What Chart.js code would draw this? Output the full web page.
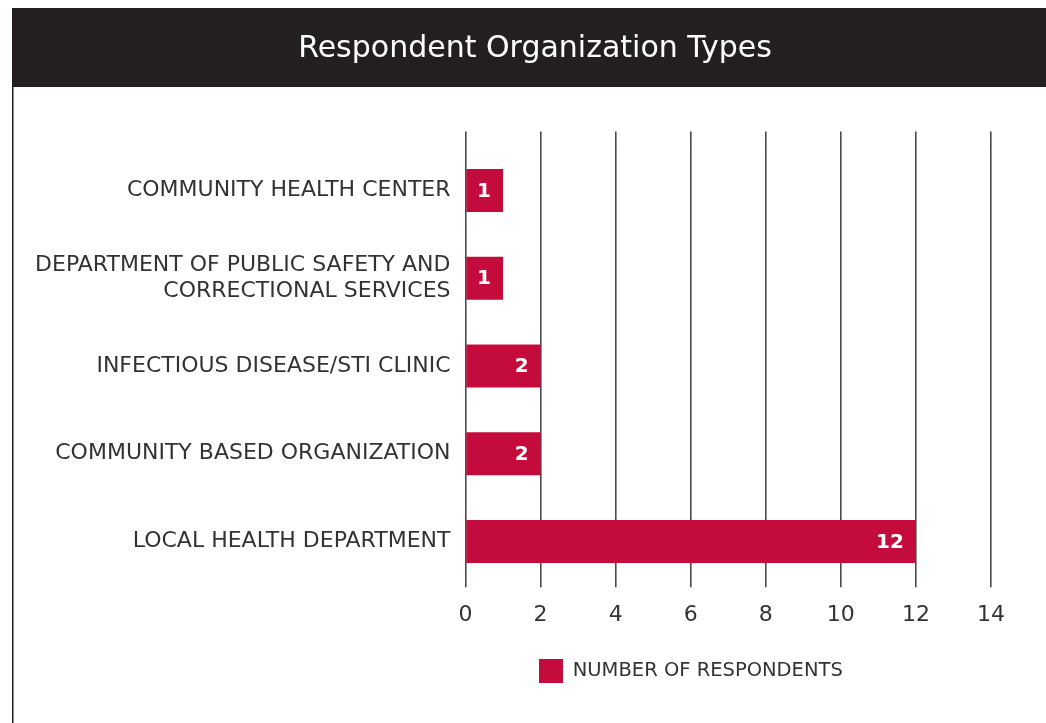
<!DOCTYPE html>
<html>
<head>
<meta charset="utf-8">
<script src="https://cdn.jsdelivr.net/npm/chart.js@4"></script>
<style>
  html, body { margin: 0; padding: 0; background: #ffffff; }
  #wrap { width: 1046px; height: 723px; }
</style>
</head>
<body>
<div id="wrap"><canvas id="c" width="1046" height="723"></canvas></div>
<script>
// ---- data ----
const chartTitle = 'Respondent Organization Types';
const categories = [
  'COMMUNITY HEALTH CENTER',
  ['DEPARTMENT OF PUBLIC SAFETY AND', 'CORRECTIONAL SERVICES'],
  'INFECTIOUS DISEASE/STI CLINIC',
  'COMMUNITY BASED ORGANIZATION',
  'LOCAL HEALTH DEPARTMENT'
];
const respondents = [1, 1, 2, 2, 12];
const seriesName = 'NUMBER OF RESPONDENTS';
const axisMin = 0;
const axisMax = 14;
const axisStep = 2;

// ---- styles ----
const FONT = "'DejaVu Sans', sans-serif";
const BAR = '#c40c3c';
const HEADER = '#231f20';
const GRID = '#4a4a4a';
const TEXT = '#333333';

const framePlugin = {
  id: 'frame',
  beforeDraw(chart) {
    const ctx = chart.ctx;
    ctx.save();
    ctx.fillStyle = '#ffffff';
    ctx.fillRect(0, 0, chart.width, chart.height);
    ctx.fillStyle = HEADER;
    ctx.fillRect(12, 8, chart.width - 12, 79);
    ctx.strokeStyle = HEADER;
    ctx.lineWidth = 1.5;
    ctx.beginPath();
    ctx.moveTo(12.75, 86);
    ctx.lineTo(12.75, chart.height);
    ctx.stroke();
    ctx.restore();
  }
};

const legendPlacePlugin = {
  id: 'legendPlace',
  afterLayout(chart) {
    const lg = chart.legend;
    if (lg) {
      const pad = lg.options.labels.padding;
      lg.left = 539 - pad;
    }
  }
};

const valueLabelPlugin = {
  id: 'valueLabels',
  afterDatasetsDraw(chart) {
    const ctx = chart.ctx;
    const meta = chart.getDatasetMeta(0);
    const ds = chart.data.datasets[0];
    ctx.save();
    ctx.fillStyle = '#ffffff';
    ctx.font = "bold 20px " + FONT;
    ctx.textAlign = 'right';
    ctx.textBaseline = 'middle';
    meta.data.forEach((bar, i) => {
      ctx.fillText(String(ds.data[i]), bar.x - 12, bar.y + 1);
    });
    ctx.restore();
  }
};

new Chart(document.getElementById('c'), {
  type: 'bar',
  data: {
    labels: categories,
    datasets: [{
      label: seriesName,
      data: respondents,
      backgroundColor: BAR,
      borderWidth: 0,
      categoryPercentage: 1.0,
      barPercentage: 0.49
    }]
  },
  options: {
    indexAxis: 'y',
    responsive: false,
    animation: false,
    devicePixelRatio: 1,
    layout: { padding: { left: 24, right: 0, top: 0, bottom: 30 } },
    plugins: {
      title: {
        display: true,
        text: chartTitle,
        color: '#ffffff',
        font: { family: FONT, size: 30, weight: 'normal' },
        padding: { top: 31.5, bottom: 65 }
      },
      legend: {
        display: true,
        position: 'bottom',
        align: 'start',
        labels: {
          boxWidth: 24,
          boxHeight: 24,
          padding: 10,
          color: TEXT,
          font: { family: FONT, size: 19.5 }
        }
      },
      tooltip: { enabled: false }
    },
    scales: {
      x: {
        type: 'linear',
        position: 'bottom',
        min: axisMin,
        max: axisMax,
        ticks: {
          stepSize: axisStep,
          color: TEXT,
          font: { family: FONT, size: 22 },
          padding: 15
        },
        grid: { color: GRID, lineWidth: 1.6, tickLength: 2, drawTicks: true },
        border: { display: false },
        afterFit(scale) { scale.height = 63.7; }
      },
      xTop: {
        type: 'linear',
        position: 'top',
        axis: 'x',
        min: axisMin,
        max: axisMax,
        ticks: { stepSize: axisStep, display: false },
        grid: { color: GRID, lineWidth: 1.6, tickLength: 15, drawOnChartArea: false, drawTicks: true },
        border: { display: false },
        afterFit(scale) { scale.height = 14; }
      },
      y: {
        type: 'category',
        position: 'left',
        grid: { display: false, drawTicks: false },
        border: { display: false },
        ticks: {
          color: TEXT,
          padding: 15,
          font: { family: FONT, size: 22, lineHeight: 1.18 }
        },
        afterFit(scale) { scale.width = 441.5; }
      },
      yRight: {
        type: 'linear',
        position: 'right',
        axis: 'y',
        display: true,
        ticks: { display: false },
        grid: { display: false },
        border: { display: false },
        afterFit(scale) { scale.width = 55; }
      }
    }
  },
  plugins: [framePlugin, legendPlacePlugin, valueLabelPlugin]
});
</script>
</body>
</html>
